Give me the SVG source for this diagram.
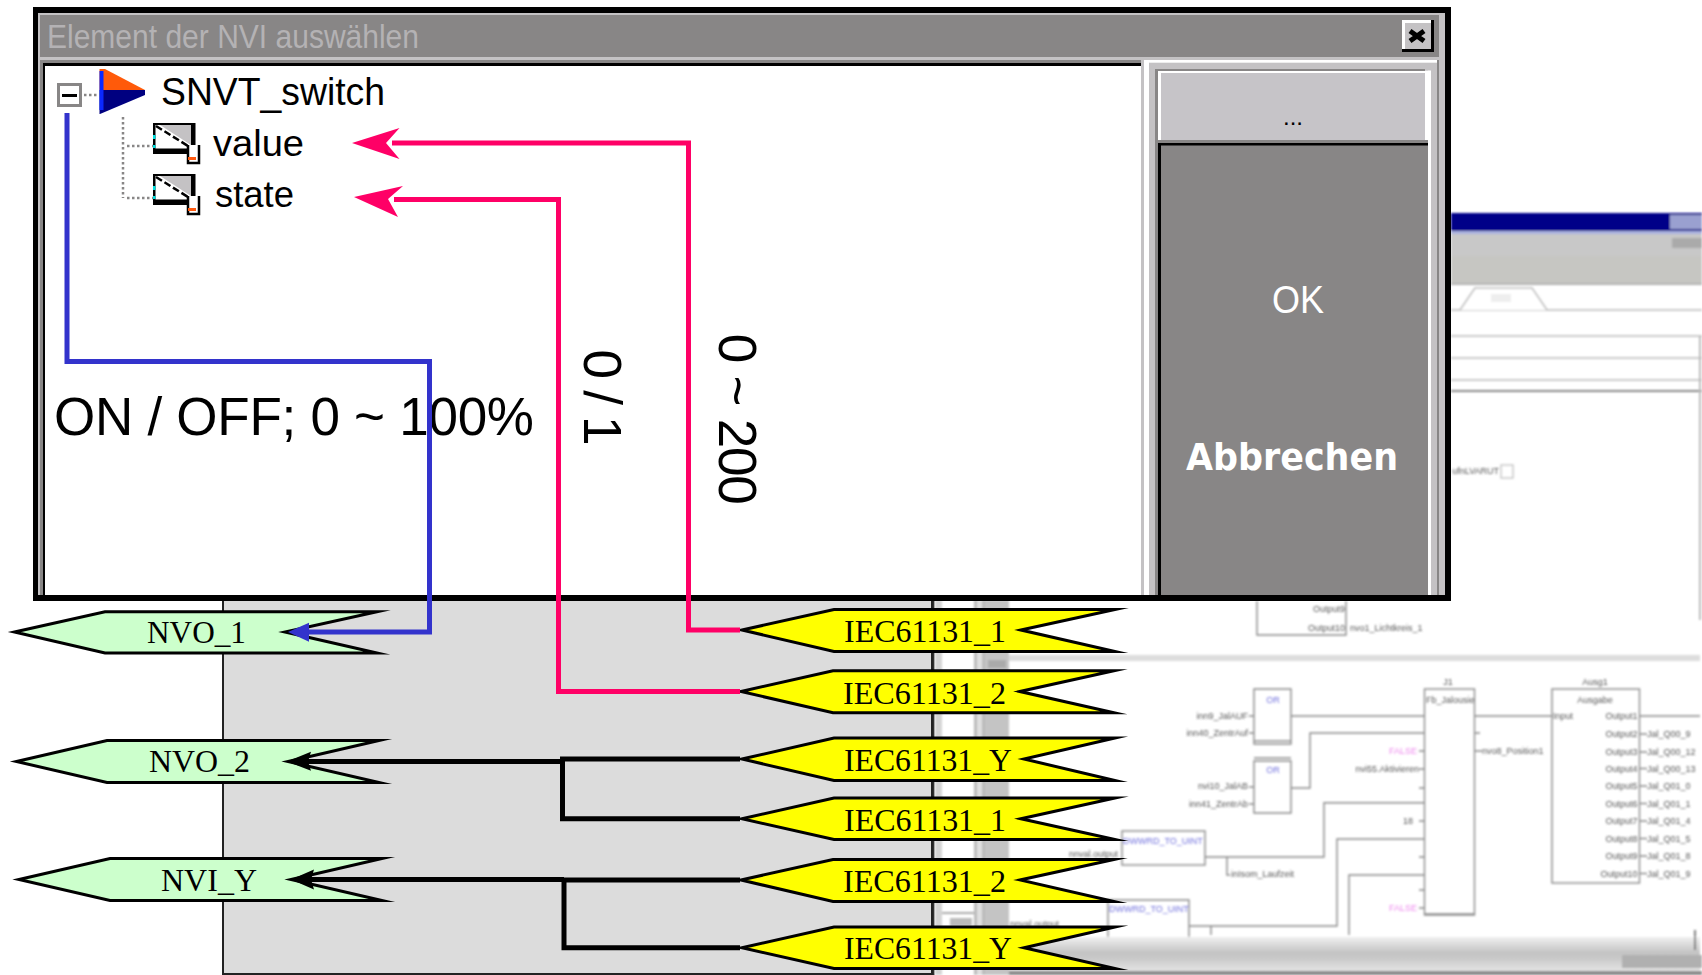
<svg xmlns="http://www.w3.org/2000/svg" xmlns:xlink="http://www.w3.org/1999/xlink" width="1702" height="975" viewBox="0 0 1702 975">
<style>
.sans{font-family:"Liberation Sans",Arial,sans-serif}
.serif{font-family:"Liberation Serif","Times New Roman",serif;font-size:32px;fill:#000}
.flag{stroke:#000;stroke-width:3;stroke-linejoin:miter;stroke-miterlimit:20}
.nv{fill:#ccffcc}
.iec{fill:#ffff00}
.big{font-family:"Liberation Sans",Arial,sans-serif;font-size:53px;fill:#000}
.tree{font-family:"Liberation Sans",Arial,sans-serif;fill:#000;font-size:36px}
.wire{fill:none;stroke-width:5;stroke-linejoin:miter}
.pink{stroke:#ff0066}
.blue{stroke:#3333cc}
.blk{stroke:#000}
.dot{stroke:#888686;stroke-width:2.5;stroke-dasharray:2.5 2.5;fill:none}
.s{font-family:"Liberation Sans",Arial,sans-serif;font-size:9px;fill:#555}
.e{text-anchor:end}
.m{text-anchor:middle}
.l{stroke:#8a8a8a;stroke-width:1.4;fill:none}
.lb{fill:#7070dd}
.lm{fill:#ee88ee}
</style>
<defs>
<filter id="soft" x="-2%" y="-2%" width="104%" height="104%"><feGaussianBlur stdDeviation="0.8"/></filter>
<linearGradient id="bot" x1="0" y1="0" x2="0" y2="1"><stop offset="0" stop-color="#f0f0f0"/><stop offset="0.45" stop-color="#c4c4c4"/><stop offset="0.6" stop-color="#c8c8c8"/><stop offset="1" stop-color="#e6e6e6"/></linearGradient>
<g id="fileicon">
<rect x="0" y="0" width="40" height="30" fill="#fff"/>
<polygon points="4,0 38,0 38,22" fill="#c4c2c4"/>
<rect x="0" y="0" width="38" height="2" fill="#000"/>
<rect x="0" y="0" width="2.5" height="28" fill="#000"/>
<rect x="0" y="12" width="2.5" height="4" fill="#00e0e0"/>
<rect x="0" y="22" width="2.5" height="3" fill="#00e0e0"/>
<path d="M3 3L35 23" stroke="#000" stroke-width="2.5" stroke-dasharray="7 3" fill="none"/>
<rect x="38" y="0" width="4.5" height="22" fill="#000"/>
<rect x="0" y="25.500" width="35" height="5.500" fill="#000"/>
<rect x="35" y="22" width="11" height="18" fill="#fff"/>
<path d="M35 22V40H46V22" fill="none" stroke="#000" stroke-width="2.5"/>
<rect x="35" y="34" width="8" height="3" fill="#ff5a10"/>
</g>
</defs>

<g id="screenshot">
<rect id="panel-bg" x="223" y="600" width="709" height="374" fill="#dcdcdc" stroke="#222" stroke-width="2"/>
<rect x="931.500" y="600" width="3" height="375" fill="#222"/>
<g filter="url(#soft)">
<rect x="1451" y="213" width="251" height="18" fill="#000088"/>
<rect x="1670" y="215" width="32" height="14" fill="#9aa0d0"/>
<rect x="1451" y="231" width="251" height="3" fill="#a8b0e0"/>
<rect x="1451" y="234" width="251" height="22" fill="#c8c8c8"/>
<rect x="1672" y="238" width="30" height="10" fill="#aaa"/>
<rect x="1451" y="256" width="251" height="27" fill="#c6c6c2"/>
<path d="M1451 284H1702" stroke="#999" stroke-width="1.5"/>
<path d="M1451 310H1702M1451 336H1702M1451 358H1702M1451 380H1702" stroke="#bbb" stroke-width="1.6"/>
<path d="M1451 391H1702" stroke="#888" stroke-width="2"/>
<path d="M1460 310L1475 288H1532L1547 310" stroke="#bbb" stroke-width="1.5" fill="#fff"/>
<rect x="1491" y="294" width="20" height="8" fill="#eee"/>
<path d="M1700 336V620" stroke="#bbb" stroke-width="2"/>
<text class="s e" x="1499" y="474">ufnLVARUT</text>
<rect x="1501" y="465" width="12" height="13" fill="none" stroke="#bbb" stroke-width="1.2"/>
<rect x="935" y="600" width="7" height="375" fill="#d4d4d4"/>
<rect x="974" y="600" width="3" height="375" fill="#bbb"/>
<rect x="977" y="600" width="5" height="375" fill="#e0e0e0"/>
<rect x="982" y="600" width="3" height="375" fill="#bbb"/>
<rect x="985" y="600" width="24" height="375" fill="#c4c4c4"/>
<rect x="1009" y="655" width="691" height="6" fill="#ddd"/>
<rect x="988" y="660" width="18" height="8" fill="#aaa"/>
<path d="M942 913H974" stroke="#aaa" stroke-width="2"/>
<rect x="950" y="918" width="22" height="8" fill="#bbb"/>
<path d="M1257 601V635H1346V601" class="l"/>
<text class="s e" x="1345" y="612">Output9</text>
<text class="s e" x="1345" y="631">Output10</text>
<text class="s" x="1350" y="631">nvo1_Lichtkreis_1</text>
<path d="M1254 689H1291V744H1254ZM1254 741H1291M1254 761H1291V813H1254ZM1254 761V813M1254 758H1291" class="l"/>
<text class="s lb m" x="1273" y="703">OR</text>
<text class="s lb m" x="1273" y="773">OR</text>
<text class="s e" x="1248" y="719">inn9_JalAUF</text>
<text class="s e" x="1248" y="736">inn40_ZentrAuf</text>
<text class="s e" x="1248" y="789">nvi10_JalAB</text>
<text class="s e" x="1248" y="807">inn41_ZentrAb</text>
<path d="M1249 716H1254M1249 733H1254M1249 787H1254M1249 804H1254" class="l"/>
<path d="M1291 716H1424" class="l" stroke-width="2.4"/>
<path d="M1291 788H1310V733H1424" class="l"/>
<rect x="1424.500" y="689" width="50" height="226" class="l" fill="#fff"/>
<path d="M1424.500 914H1474.500" class="l"/>
<text class="s m" x="1448" y="685">J1</text>
<text class="s" x="1426" y="703">Fb_Jalousie</text>
<text class="s e lm" x="1417" y="754">FALSE</text>
<text class="s e" x="1419" y="772">nvi55.Aktivieren</text>
<text class="s e" x="1413" y="824">18</text>
<text class="s e lm" x="1417" y="911">FALSE</text>
<path d="M1419 751H1424M1419 769H1424M1419 788H1424M1419 821H1424M1419 857H1424M1419 890H1424M1419 908H1424" class="l"/>
<path d="M1474 716H1552" class="l" stroke-width="2.4"/>
<path d="M1474 733H1480M1474 751H1482" class="l"/>
<text class="s" x="1482" y="754">nvo8_Position1</text>
<rect x="1552" y="689" width="87.500" height="194" class="l" fill="#fff"/>
<text class="s m" x="1595" y="685">Ausg1</text>
<text class="s m" x="1595" y="703">Ausgabe</text>
<text class="s" x="1553" y="719">Input</text>
<g class="outs">
<text class="s e" x="1637.500" y="719">Output1</text>
<text class="s e" x="1637.500" y="737">Output2</text>
<text class="s e" x="1637.500" y="755">Output3</text>
<text class="s e" x="1637.500" y="771.500">Output4</text>
<text class="s e" x="1637.500" y="789">Output5</text>
<text class="s e" x="1637.500" y="806.500">Output6</text>
<text class="s e" x="1637.500" y="824">Output7</text>
<text class="s e" x="1637.500" y="841.500">Output8</text>
<text class="s e" x="1637.500" y="859">Output9</text>
<text class="s e" x="1637.500" y="876.500">Output10</text>
<text class="s" x="1647" y="737">Jal_Q00_9</text>
<text class="s" x="1647" y="755">Jal_Q00_12</text>
<text class="s" x="1647" y="771.500">Jal_Q00_13</text>
<text class="s" x="1647" y="789">Jal_Q01_0</text>
<text class="s" x="1647" y="806.500">Jal_Q01_1</text>
<text class="s" x="1647" y="824">Jal_Q01_4</text>
<text class="s" x="1647" y="841.500">Jal_Q01_5</text>
<text class="s" x="1647" y="859">Jal_Q01_8</text>
<text class="s" x="1647" y="876.500">Jal_Q01_9</text>
<path d="M1640 716H1700M1640 734H1647M1640 752H1647M1640 768.500H1647M1640 786H1647M1640 803.500H1647M1640 821H1647M1640 838.500H1647M1640 856H1647M1640 873.500H1647" class="l"/>
</g>
<rect x="1122" y="831" width="83" height="34" class="l" fill="#fff"/>
<text class="s lb" x="1123" y="844">DWWRD_TO_UINT</text>
<text class="s e" x="1118" y="857">nnval.output</text>
<path d="M1205 857H1324V802.700H1424M1227 857V875H1230" class="l"/>
<text class="s" x="1231" y="877">inIsom_Laufzeit</text>
<path d="M1108 961V900H1189V955M1189 926H1337V839H1424M1211 926V935M1349 935V875H1424" class="l"/>
<text class="s lb" x="1109" y="912">DWWRD_TO_UINT</text>
<text class="s" x="1010" y="927">nnval.output</text>
<rect x="1009" y="937" width="691" height="35" fill="url(#bot)"/>
<rect x="1009" y="971" width="693" height="4" fill="#888"/>
<rect x="1622" y="955" width="80" height="13" fill="#b0b0b0"/>
<path d="M1695 950V930" stroke="#555" stroke-width="1.5"/>
</g>
</g>

<g id="dialog">
<rect x="33" y="7" width="1418" height="594" fill="#000"/>
<rect x="38" y="13" width="1407" height="582" fill="#c4c2c4"/>
<rect x="40" y="15" width="1399" height="42" fill="#888686"/>
<rect x="40" y="60" width="1101" height="535" fill="#888686"/>
<rect x="43" y="63" width="1098" height="532" fill="#000"/>
<rect x="45" y="66" width="1096" height="529" fill="#fff"/>
<rect x="1144" y="60" width="293" height="2.700" fill="#fff"/>
<rect x="1144" y="60" width="5" height="535" fill="#fff"/>
<rect x="1155" y="69" width="270" height="526" fill="#888686"/>
<rect x="1425" y="70.700" width="6" height="524.300" fill="#fff"/>
<rect x="1437" y="60" width="2" height="535" fill="#888686"/>
<rect x="1158" y="71" width="267" height="69" fill="#c6c4c8"/>
<rect x="1158" y="71" width="270" height="2" fill="#fff"/>
<rect x="1158" y="71" width="3" height="69" fill="#fff"/>
<rect x="1158" y="140" width="270" height="3" fill="#888686"/>
<rect x="1158" y="143" width="270" height="452" fill="#000"/>
<rect x="1161" y="145.500" width="267" height="449.500" fill="#888686"/>
<rect x="1428" y="70.700" width="3" height="524.300" fill="#fff"/>
<text class="sans m" x="1293" y="125" font-size="24" fill="#000">...</text>
<text class="sans m" x="1298" y="313" font-size="38" fill="#fff" textLength="52" lengthAdjust="spacingAndGlyphs">OK</text>
<text x="1186" y="470" font-family="'DejaVu Sans',sans-serif" font-weight="700" font-size="38" fill="#fff" textLength="212" lengthAdjust="spacingAndGlyphs">Abbrechen</text>
<text class="sans" x="47" y="48" font-size="34" fill="#b4b2b4" textLength="372" lengthAdjust="spacingAndGlyphs">Element der NVI auswählen</text>
<g id="close">
<rect x="1402" y="20" width="32" height="32" fill="#000"/>
<rect x="1402" y="20" width="29" height="29" fill="#fff"/>
<rect x="1405" y="23" width="26" height="26" fill="#c4c2c4"/>
<path d="M1410 31L1424 41M1424 31L1410 41" stroke="#000" stroke-width="5"/>
</g>
<g id="tree">
<rect x="58.500" y="84.500" width="22" height="21" fill="#fff" stroke="#888686" stroke-width="3"/>
<rect x="62" y="94" width="15" height="3" fill="#000"/>
<path class="dot" d="M84 95H99M123 117V198M127 146H153M127 198H153"/>
<polygon points="99.500,69 105,69 145,90 99.500,90" fill="#ff5a0a"/>
<polygon points="99.500,90 145,90 145,95 100,114 99.500,114" fill="#000080"/>
<rect x="99.500" y="71" width="4" height="39" fill="#0a28ff"/>
<text class="sans" x="161" y="105" font-size="38" fill="#000" textLength="224" lengthAdjust="spacingAndGlyphs">SNVT_switch</text>
<use xlink:href="#fileicon" href="#fileicon" x="153" y="123"/>
<use xlink:href="#fileicon" href="#fileicon" x="153" y="174"/>
<text class="tree" x="213" y="156" textLength="91" lengthAdjust="spacingAndGlyphs">value</text>
<text class="tree" x="215" y="207" textLength="79" lengthAdjust="spacingAndGlyphs">state</text>
</g>
</g>

<g id="label-range-switch"><text class="big" x="54" y="434.500" textLength="480" lengthAdjust="spacing">ON / OFF; 0 ~ 100%</text></g>
<g id="label-state"><text class="big" transform="translate(584 0) rotate(90)" x="349.500" textLength="96" lengthAdjust="spacing">0 / 1</text></g>
<g id="label-value"><text class="big" transform="translate(718.500 0) rotate(90)" x="333.700" textLength="171" lengthAdjust="spacing">0 ~ 200</text></g>

<g id="NVO_1"><polygon class="flag nv" points="14.500,632 105,611.700 377,611.700 285,632 377,653 105,653"/><text class="serif" x="147" y="643" textLength="99" lengthAdjust="spacingAndGlyphs">NVO_1</text></g>
<g id="NVO_2"><polygon class="flag nv" points="16.500,761.500 107,740.500 379,740.500 288,761.500 379,782.500 107,782.500"/><text class="serif" x="149" y="772" textLength="101" lengthAdjust="spacingAndGlyphs">NVO_2</text></g>
<g id="NVI_Y"><polygon class="flag nv" points="19,879.500 110,858.500 382,858.500 291,879.500 382,900.500 110,900.500"/><text class="serif" x="161" y="891" textLength="96" lengthAdjust="spacingAndGlyphs">NVI_Y</text></g>

<g id="IEC_A1"><polygon class="flag iec" points="742,630 834,609.500 1115,609.500 1021,630 1115,651.500 834,651.500"/><text class="serif" x="844" y="641.500" textLength="162" lengthAdjust="spacingAndGlyphs">IEC61131_1</text></g>
<g id="IEC_A2"><polygon class="flag iec" points="741,691.500 833,670.700 1114,670.700 1020,691.500 1114,712.700 833,712.700"/><text class="serif" x="843" y="703.500" textLength="163" lengthAdjust="spacingAndGlyphs">IEC61131_2</text></g>
<g id="IEC_AY"><polygon class="flag iec" points="742,759 834,738 1115,738 1024,759 1115,780.500 834,780.500"/><text class="serif" x="844" y="770.500" textLength="168" lengthAdjust="spacingAndGlyphs">IEC61131_Y</text></g>
<g id="IEC_B1"><polygon class="flag iec" points="742,818.700 834,798 1115,798 1021,818.700 1115,839.500 834,839.500"/><text class="serif" x="844" y="831" textLength="162" lengthAdjust="spacingAndGlyphs">IEC61131_1</text></g>
<g id="IEC_B2"><polygon class="flag iec" points="741,880 833,859.500 1114,859.500 1020,880 1114,901.500 833,901.500"/><text class="serif" x="843" y="891.500" textLength="163" lengthAdjust="spacingAndGlyphs">IEC61131_2</text></g>
<g id="IEC_BY"><polygon class="flag iec" points="742,947.700 834,927 1115,927 1024,947.700 1115,968.500 834,968.500"/><text class="serif" x="844" y="959" textLength="168" lengthAdjust="spacingAndGlyphs">IEC61131_Y</text></g>

<g id="connectors">
<path class="wire blue" d="M67 113V361.500H429.500V632H300"/>
<polygon points="288,632 309,622.700 309,641.700" fill="#3333cc"/>
<path class="wire pink" d="M740 630H688.500V143H392"/>
<polygon points="352,143 399.500,128 386,143 399.500,159" fill="#ff0066"/>
<path class="wire pink" d="M740 691.500H558.500V199.500H394"/>
<polygon points="354,197 403,186 388,199 398,217" fill="#ff0066"/>
<path class="wire blk" d="M740 759H562.500V818.700H740M562.500 761.500H300"/>
<polygon points="287,761.500 311,751.700 308,761.500 311,770.700" fill="#000"/>
<path class="wire blk" d="M740 880H564V947.700H740M564 879.500H304"/>
<polygon points="291,879.500 314,869.500 311,879.500 314,889.500" fill="#000"/>
</g>
</svg>
